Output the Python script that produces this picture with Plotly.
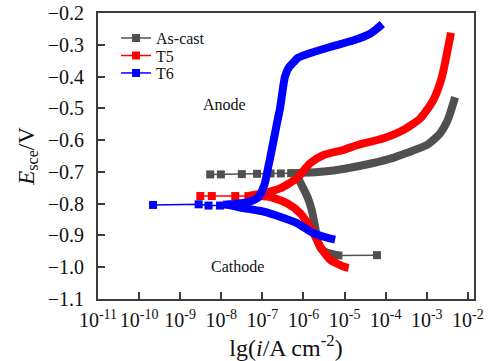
import plotly.graph_objects as go

# ---------------- data (log10 of current density, potential in V) ----------------
# As-cast
ac_sparse_lg = [-8.27, -8.01, -7.50, -7.13, -6.80, -6.55, -6.30]
ac_sparse_E = [-0.708, -0.708, -0.707, -0.706, -0.705, -0.705, -0.704]
ac_anod_lg = [-6.30, -6.00, -5.50, -5.00, -4.30, -3.80, -3.48, -2.99, -2.80, -2.67, -2.50, -2.43, -2.31]
ac_anod_E = [-0.704, -0.703, -0.699, -0.690, -0.672, -0.655, -0.640, -0.615, -0.595, -0.578, -0.540, -0.515, -0.465]
ac_cath_lg = [-6.30, -6.17, -6.05, -5.90, -5.80, -5.72, -5.65, -5.55, -5.40, -5.15]
ac_cath_E = [-0.704, -0.712, -0.740, -0.780, -0.820, -0.870, -0.920, -0.945, -0.955, -0.963]
ac_tail_lg = [-5.15, -4.21]
ac_tail_E = [-0.963, -0.962]

# T5
t5_sparse_lg = [-8.51, -8.23, -7.66, -7.34]
t5_sparse_E = [-0.776, -0.776, -0.776, -0.776]
t5_anod_lg = [-7.34, -6.97, -6.57, -6.16, -5.84, -5.51, -5.03, -4.70, -4.05, -3.57, -3.16, -2.84, -2.63, -2.51, -2.41]
t5_anod_E = [-0.776, -0.767, -0.752, -0.720, -0.673, -0.647, -0.631, -0.616, -0.594, -0.568, -0.532, -0.474, -0.401, -0.328, -0.262]
t5_cath_lg = [-7.34, -6.81, -6.40, -6.08, -5.80, -5.59, -5.35, -5.03, -4.90]
t5_cath_E = [-0.776, -0.779, -0.799, -0.830, -0.882, -0.935, -0.976, -0.998, -1.002]

# T6
t6_sparse_lg = [-9.66, -8.55, -8.31, -8.03, -7.86]
t6_sparse_E = [-0.804, -0.802, -0.806, -0.806, -0.803]
t6_anod_lg = [-7.86, -7.35, -7.10, -6.95, -6.85, -6.77, -6.65, -6.57, -6.45, -6.35, -6.24, -6.12, -5.92, -5.35, -4.78, -4.38, -4.22, -4.08]
t6_anod_E = [-0.803, -0.795, -0.780, -0.740, -0.680, -0.630, -0.550, -0.500, -0.400, -0.370, -0.355, -0.340, -0.330, -0.307, -0.286, -0.265, -0.250, -0.235]
t6_cath_lg = [-7.86, -7.54, -6.97, -6.57, -6.16, -5.76, -5.40, -5.23]
t6_cath_E = [-0.803, -0.812, -0.825, -0.841, -0.861, -0.893, -0.908, -0.913]

x_tick_exp = [-11, -10, -9, -8, -7, -6, -5, -4, -3, -2]
y_ticks = [-1.1, -1.0, -0.9, -0.8, -0.7, -0.6, -0.5, -0.4, -0.3, -0.2]

series = [
    ("As-cast", "#505050", ac_sparse_lg, ac_sparse_E,
     [(ac_anod_lg, ac_anod_E), (ac_cath_lg, ac_cath_E)], (ac_tail_lg, ac_tail_E), "legend"),
    ("T5", "#ff0000", t5_sparse_lg, t5_sparse_E,
     [(t5_anod_lg, t5_anod_E), (t5_cath_lg, t5_cath_E)], None, "legend2"),
    ("T6", "#0000ff", t6_sparse_lg, t6_sparse_E,
     [(t6_anod_lg, t6_anod_E), (t6_cath_lg, t6_cath_E)], None, "legend3"),
]

FONT = "Liberation Serif"
TXT = "#111111"

def tenpow(v):
    return [10 ** a for a in v]

fig = go.Figure()
for name, color, slg, sE, dense, tail, leg in series:
    for lg, E in dense:
        fig.add_trace(go.Scatter(x=tenpow(lg), y=E, mode="lines",
                                 line=dict(color=color, width=8, shape="spline", smoothing=0.6),
                                 showlegend=False, hoverinfo="skip"))
    if tail is not None:
        fig.add_trace(go.Scatter(x=tenpow(tail[0]), y=tail[1], mode="lines+markers",
                                 line=dict(color=color, width=1.5),
                                 marker=dict(symbol="square", size=8, color=color),
                                 showlegend=False))
    fig.add_trace(go.Scatter(x=tenpow(slg), y=sE, mode="lines+markers", name=name,
                             line=dict(color=color, width=1.5),
                             marker=dict(symbol="square", size=8, color=color),
                             legend=leg))

axis_color = "#3c3c3c"
fig.update_layout(
    width=494, height=361,
    margin=dict(l=98, r=20, t=13, b=62),
    paper_bgcolor="white", plot_bgcolor="white",
    font=dict(family=FONT, color=TXT, size=20),
    xaxis=dict(type="log", range=[-11, -1.85], automargin=False, tickangle=0,
               tickvals=[10 ** e for e in x_tick_exp],
               ticktext=[f"10<sup>{e}</sup>" for e in x_tick_exp],
               ticks="inside", ticklen=7, tickwidth=2, tickcolor=axis_color,
               showline=True, linewidth=2, linecolor=axis_color, mirror=True,
               showgrid=False, zeroline=False, ticklabelstandoff=2,
               tickfont=dict(size=20, family=FONT, color=TXT),
               title=dict(text="lg(<i>i</i>/A cm<sup>-2</sup>)",
                          font=dict(size=24, family=FONT, color=TXT), standoff=0)),
    yaxis=dict(range=[-1.1, -0.2], automargin=False, tickangle=0,
               tickvals=y_ticks, ticktext=[f"{v:.1f}".replace("-", "\u2212") for v in y_ticks],
               ticks="inside", ticklen=7, tickwidth=2, tickcolor=axis_color,
               showline=True, linewidth=2, linecolor=axis_color, mirror=True,
               showgrid=False, zeroline=False, ticklabelstandoff=8,
               tickfont=dict(size=20, family=FONT, color=TXT),
               title=dict(text="<i>E</i><sub>sce</sub>/V",
                          font=dict(size=23, family=FONT, color=TXT), standoff=7)),
    annotations=[
        dict(x=-7.93, y=-0.487, xref="x", yref="y", text="Anode", showarrow=False,
             font=dict(size=16, family=FONT, color=TXT)),
        dict(x=-7.60, y=-0.999, xref="x", yref="y", text="Cathode", showarrow=False,
             font=dict(size=16, family=FONT, color=TXT)),
    ],
)

leg_common = dict(xanchor="left", yanchor="middle", x=0.048, bgcolor="rgba(0,0,0,0)",
                  borderwidth=0, font=dict(size=16, family=FONT, color=TXT),
                  tracegroupgap=0)
fig.update_layout(
    legend=dict(y=0.912, **leg_common),
    legend2=dict(y=0.851, **leg_common),
    legend3=dict(y=0.790, **leg_common),
)

fig.write_html("out.html")
